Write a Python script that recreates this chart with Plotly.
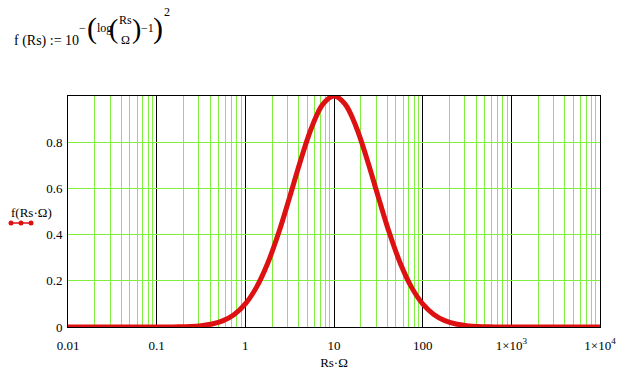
import plotly.graph_objects as go

# Data (Rs exponent -> f value)
rs_exponents = [-2.0, -1.875, -1.75, -1.625, -1.5, -1.375, -1.25, -1.125, -1.0, -0.875,
                -0.75, -0.625, -0.5, -0.375, -0.25, -0.125, 0.0, 0.125, 0.25, 0.375,
                0.5, 0.625, 0.75, 0.875, 1.0, 1.125, 1.25, 1.375, 1.5, 1.625,
                1.75, 1.875, 2.0, 2.125, 2.25, 2.375, 2.5, 2.625, 2.75, 2.875,
                3.0, 3.125, 3.25, 3.375, 3.5, 3.625, 3.75, 3.875, 4.0]
f_values = [0.0, 0.0, 0.0, 0.0, 0.0, 0.0, 0.0, 0.0, 0.0001, 0.0003,
            0.0009, 0.0023, 0.0056, 0.0129, 0.0274, 0.0543, 0.1, 0.1715, 0.2738, 0.4067,
            0.5623, 0.7233, 0.866, 0.9647, 1.0, 0.9647, 0.866, 0.7233, 0.5623, 0.4067,
            0.2738, 0.1715, 0.1, 0.0543, 0.0274, 0.0129, 0.0056, 0.0023, 0.0009, 0.0003,
            0.0001, 0.0, 0.0, 0.0, 0.0, 0.0, 0.0, 0.0, 0.0]
rs_values = [10 ** e for e in rs_exponents]

x_tickvals = [0.01, 0.1, 1, 10, 100, 1000, 10000]
x_ticktext = ["0.01", "0.1", "1", "10", "100", "1×10<sup>3</sup>", "1×10<sup>4</sup>"]
y_tickvals = [0, 0.2, 0.4, 0.6, 0.8]
y_ticktext = ["0", "0.2", "0.4", "0.6", "0.8"]

FONT = "Liberation Serif"
GREEN = "#80f040"
RED = "#dd1111"

W, H = 635, 380
L, R, T, B = 68, 35, 96, 53
PW, PH = W - L - R, H - T - B


def px(x):
    return (x - L) / PW


def py(y):
    return (H - B - y) / PH


fig = go.Figure()
fig.add_trace(go.Scatter(x=rs_values, y=f_values, mode="lines",
                         line=dict(color=RED, width=5, shape="spline"),
                         showlegend=False, hoverinfo="skip"))

fig.update_layout(
    width=W, height=H,
    margin=dict(l=L, r=R, t=T, b=B),
    paper_bgcolor="white", plot_bgcolor="white",
    font=dict(family=FONT, size=13, color="black"),
    showlegend=False,
)
fig.update_xaxes(type="log", range=[-2, 4], tickvals=x_tickvals, ticktext=x_ticktext,
                 showgrid=True, gridcolor="black", gridwidth=1,
                 minor=dict(dtick="D1", showgrid=True, gridcolor=GREEN, gridwidth=1, ticks=""),
                 showline=True, linecolor="black", linewidth=1, mirror=True,
                 ticks="", ticklabelstandoff=6,
                 tickfont=dict(family=FONT, size=13),
                 title=dict(text="Rs·Ω", standoff=6, font=dict(family=FONT, size=13)))
fig.update_yaxes(range=[0, 1], tickvals=y_tickvals, ticktext=y_ticktext,
                 showgrid=True, gridcolor=GREEN, gridwidth=1, zeroline=False,
                 showline=True, linecolor="black", linewidth=1, mirror=True,
                 ticks="", ticklabelstandoff=2,
                 tickfont=dict(family=FONT, size=13))

anns = [
    ("f (Rs) := 10", 12, 41, 14),
    ("−", 77, 28, 12),
    ("(", 85, 28, 30),
    ("log", 95, 28, 12),
    ("(", 107, 28, 28),
    ("Rs", 117, 20, 12),
    ("Ω", 119, 40, 12),
    (")", 130, 28, 28),
    ("−1", 139, 28, 12),
    (")", 151, 28, 30),
    ("2", 162, 12, 12),
    ("f(Rs·Ω)", 9, 212, 13),
]
for text, x, y, size in anns:
    fig.add_annotation(text=text, x=px(x), y=py(y), xref="paper", yref="paper",
                       xanchor="left", yanchor="middle", showarrow=False,
                       font=dict(family=FONT, size=size, color="black"))

# legend sample line with dots
fig.add_shape(type="line", xref="paper", yref="paper",
              x0=px(10), x1=px(32), y0=py(223), y1=py(223),
              line=dict(color=RED, width=1.5))
for cx in [11, 21, 31]:
    fig.add_shape(type="circle", xref="paper", yref="paper",
                  x0=px(cx - 2.5), x1=px(cx + 2.5), y0=py(223 + 2.5), y1=py(223 - 2.5),
                  fillcolor=RED, line=dict(color=RED, width=0))

fig.write_html("out.html")
